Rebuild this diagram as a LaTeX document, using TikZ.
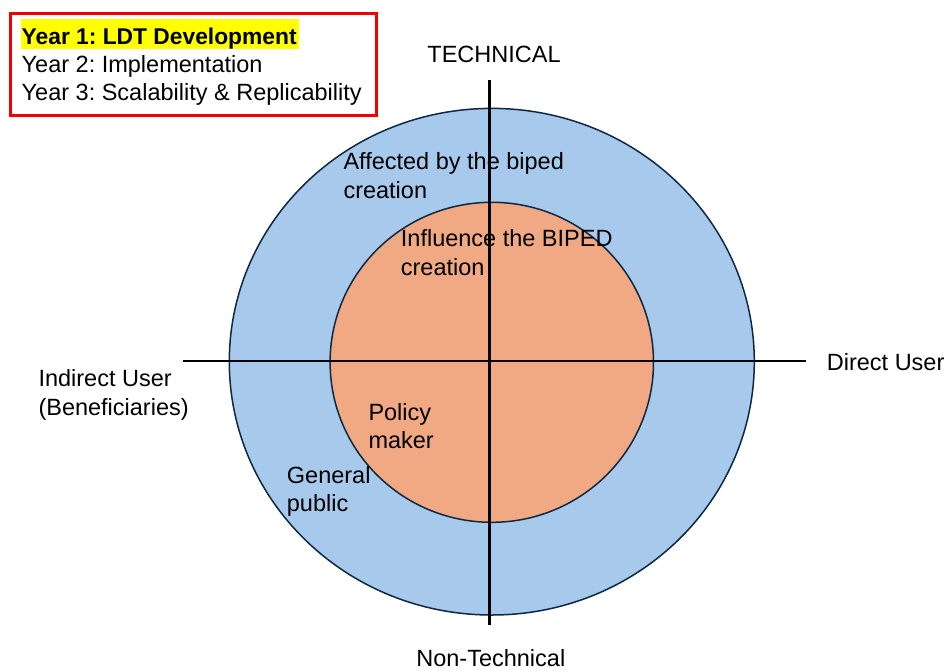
\documentclass[tikz,border=0pt]{standalone}
\usepackage{fontspec}
\setmainfont{Liberation Sans}
\definecolor{outerblue}{HTML}{A6C9EC}
\definecolor{innerorange}{HTML}{F1A983}
\definecolor{ringline}{HTML}{0E2841}
\definecolor{hiyellow}{HTML}{FFFF00}
\definecolor{boxred}{HTML}{F00000}
\frenchspacing
\begin{document}
\begin{tikzpicture}[x=1pt,y=-1pt,
  lbl/.style={inner sep=0pt,anchor=base west,font=\fontsize{23.5}{28}\selectfont},
  clbl/.style={inner sep=0pt,anchor=base,font=\fontsize{23.5}{28}\selectfont},
  ring/.style={draw=ringline,line width=1.5pt},
  axis/.style={draw=black,line width=2.6pt}]
\useasboundingbox (0,0) rectangle (946,670);
% circles
\path[ring,fill=outerblue] (491.8,361.7) ellipse [x radius=262.5,y radius=253.3];
\path[ring,fill=innerorange] (491.8,362.3) ellipse [x radius=161.7,y radius=160];
% labels inside
\node[lbl] (aff1) at (343.3,169.3) {Affected by the biped};
\node[lbl] (aff2) at (343.3,198) {creation};
\node[lbl] (inf1) at (400.7,246.7) {Influence the BIPED};
\node[lbl] (inf2) at (400.7,275.7) {creation};
\node[lbl] (pol1) at (368.3,420) {Policy};
\node[lbl] (pol2) at (368.3,448.3) {maker};
\node[lbl] (gen1) at (286.7,483.3) {General};
\node[lbl] (gen2) at (286.7,511.7) {public};
% axes
\coordinate (vtop) at (489.3,80);
\coordinate (vbot) at (489.3,625);
\coordinate (hleft) at (182.7,361);
\coordinate (hright) at (806,361);
\draw[axis] (vtop) -- (vbot);
\draw[axis] (hleft) -- (hright);
% axis labels
\node[clbl] (tech) at (494,62.7) {TECHNICAL};
\node[clbl] (nontech) at (490.8,666.7) {Non-Technical};
\node[lbl] (direct) at (826.7,370) {Direct User};
\node[lbl] (ind1) at (38.3,386.7) {Indirect User};
\node[lbl] (ind2) at (38.3,415) {(Beneficiaries)};
% legend box
\draw[draw=boxred,line width=3pt,fill=white] (10,13.3) rectangle (376.7,115);
\fill[hiyellow] (20.7,19.3) rectangle (299.3,49.3);
\node[lbl,font=\fontsize{22.8}{28}\selectfont\bfseries] (y1) at (21.5,44.3) {Year 1: LDT Development};
\node[lbl] (y2) at (21.5,72.7) {Year 2: Implementation};
\node[lbl] (y3) at (21.5,100) {Year 3: Scalability \& Replicability};
\end{tikzpicture}
\end{document}
